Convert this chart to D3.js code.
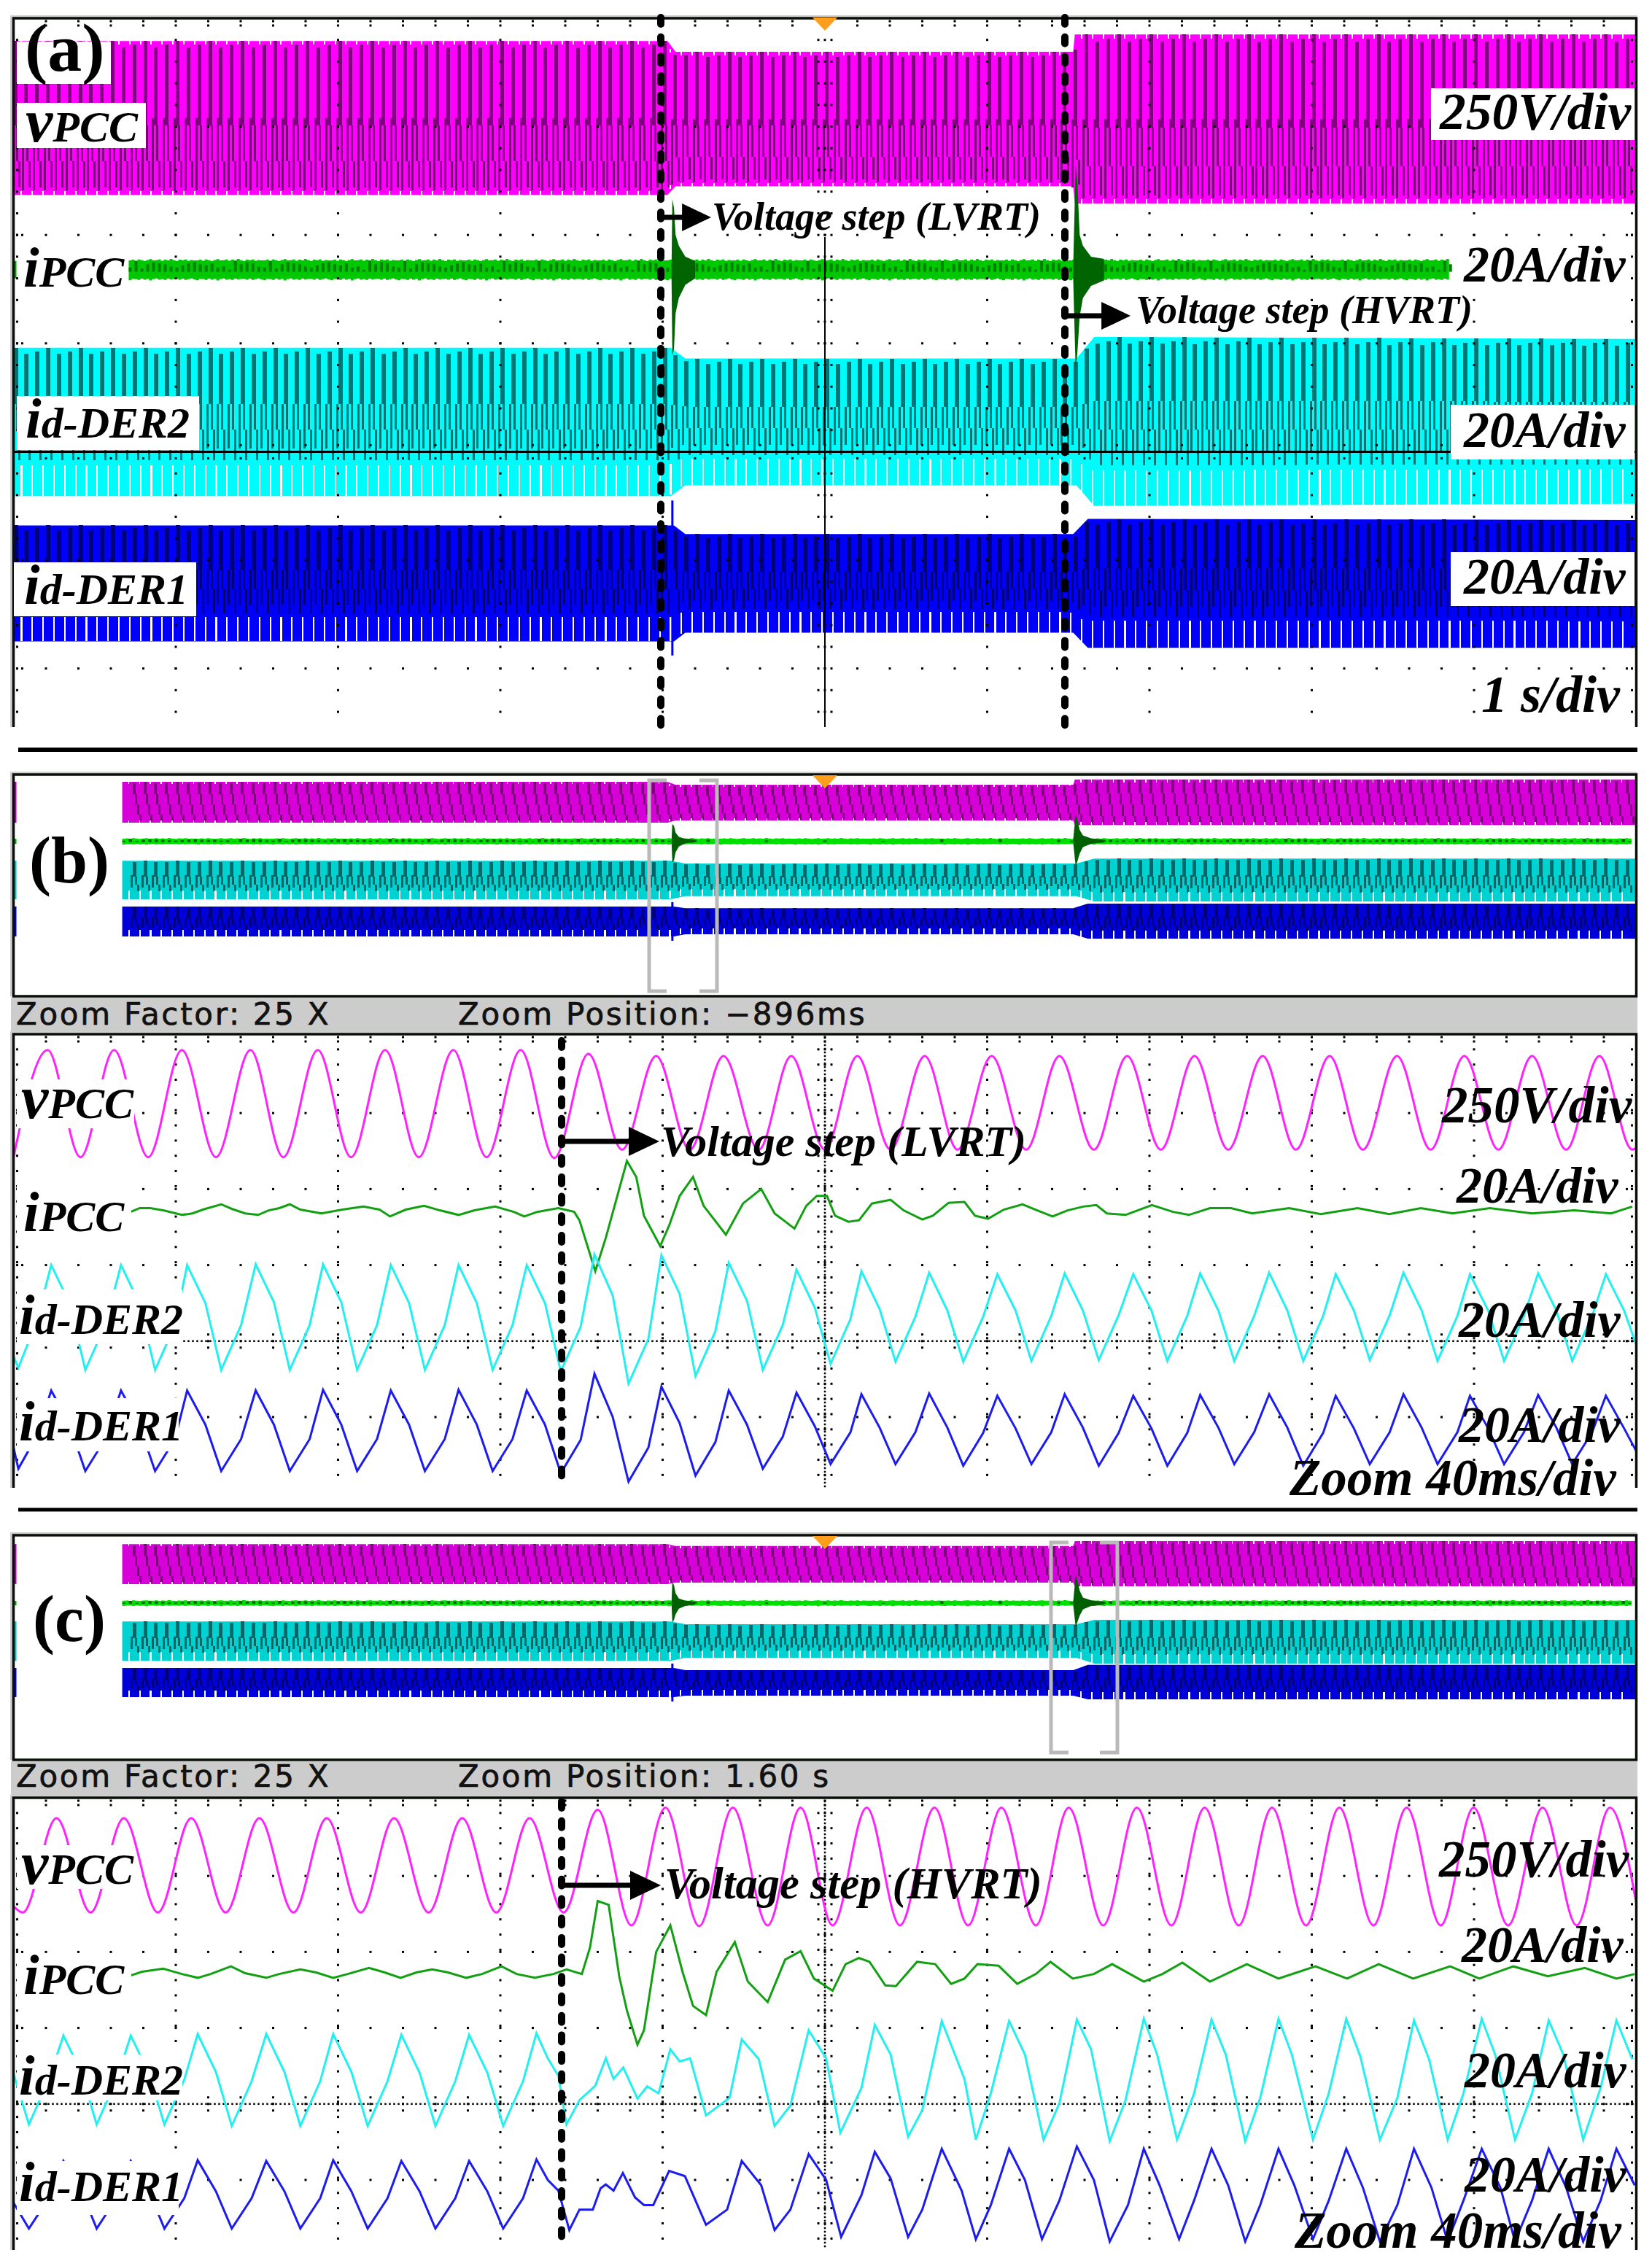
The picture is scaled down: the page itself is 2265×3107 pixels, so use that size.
<!DOCTYPE html>
<html>
<head>
<meta charset="utf-8">
<script src="https://d3js.org/d3.v7.min.js"></script>
<style>
  body { margin: 0; background: #fff; }
  text { font-family: "Liberation Serif", serif; font-weight: bold; font-style: italic; fill: #000; }
  .plain { font-style: normal; }
  .strip { font-family: "DejaVu Sans", sans-serif; font-weight: normal; font-style: normal; font-size: 42px; letter-spacing: 2.7px; fill: #111; stroke: #111; stroke-width: .7px; }
</style>
</head>
<body>
<svg id="k" width="2265" height="3107"></svg>
<script>
// ---- slow traces: envelope of each band, seconds / divisions from screen top
var vA_t = [0, 4.03, 4.08, 6.53, 6.54, 10], vA_top = [.21, .21, .31, .31, .15, .15], vA_bot = [1.63, 1.63, 1.55, 1.55, 1.71, 1.71]
var cyA_t = [0, 4.05, 4.14, 6.55, 6.66, 10], cyA_top = [3.04, 3.04, 3.14, 3.14, 2.94, 2.96], cyA_bot = [4.41, 4.41, 4.31, 4.31, 4.5, 4.48]
var blA_t = [0, 4.07, 4.14, 6.53, 6.62, 10], blA_top = [4.68, 4.68, 4.76, 4.76, 4.62, 4.63], blA_bot = [5.75, 5.75, 5.67, 5.67, 5.81, 5.81]

var vB_top = [.26, .26, .37, .37, .18, .18], vB_bot = [1.74, 1.74, 1.66, 1.66, 1.82, 1.82]
var cyB_top = [3.11, 3.11, 3.21, 3.21, 3.03, 3.03], cyB_bot = [4.5, 4.5, 4.39, 4.39, 4.58, 4.58]
var blB_top = [4.76, 4.76, 4.82, 4.82, 4.66, 4.66], blB_bot = [5.84, 5.84, 5.76, 5.76, 5.92, 5.92]

var vC_top = [.32, .32, .39, .39, .21, .21], vC_bot = [1.76, 1.76, 1.71, 1.71, 1.84, 1.84]
var cyC_top = [3.11, 3.11, 3.21, 3.21, 3.05, 3.05], cyC_bot = [4.53, 4.53, 4.42, 4.42, 4.63, 4.63]
var blC_top = [4.79, 4.79, 4.87, 4.87, 4.68, 4.68], blC_bot = [5.84, 5.84, 5.79, 5.79, 5.92, 5.92]

// grid ripple of the green band
var ripple = [.02, .05, .01, .06, .03, .0, .04, .07, .02, .03, .06, .01, .05, .02, .08, .03, .0, .05, .03, .06, .01, .04, .02]

// current bursts at the two voltage steps
var burst1_t = [4.055, 4.06, 4.07, 4.08, 4.10, 4.14, 4.20], burst2_t = [6.53, 6.545, 6.555, 6.57, 6.59, 6.64, 6.72]
var burstA1_top = [2.3, 1.67, 1.75, 2.0, 2.1, 2.2, 2.24], burstA1_bot = [2.4, 3.11, 3.05, 2.72, 2.58, 2.46, 2.4]
var burstA2_top = [2.3, 1.36, 1.5, 2.0, 2.1, 2.2, 2.22], burstA2_bot = [2.4, 3.24, 3.1, 2.75, 2.58, 2.47, 2.42]
var burstB1_top = [2.35, 1.79, 1.85, 2.1, 2.25, 2.32, 2.35], burstB1_bot = [2.45, 3.18, 3.1, 2.8, 2.6, 2.48, 2.45]
var burstB2_top = [2.35, 1.45, 1.6, 2.0, 2.2, 2.3, 2.35], burstB2_bot = [2.45, 3.3, 3.15, 2.85, 2.62, 2.5, 2.45]
var burstC1_top = [2.4, 1.7, 1.8, 2.1, 2.28, 2.36, 2.4], burstC1_bot = [2.5, 3.15, 3.05, 2.85, 2.65, 2.55, 2.5]
var burstC2_top = [2.4, 1.45, 1.6, 2.0, 2.25, 2.35, 2.4], burstC2_bot = [2.5, 3.3, 3.15, 2.9, 2.68, 2.55, 2.5]

// ---- 25x zoom traces: [ms, divisions from screen top]
var vB = [[0,1.58],[8.4,.17],[16.5,1.58],[24.8,.17],[33.2,1.58],[41.5,.17],[49.9,1.58],[58.4,.17],[66.5,1.58],[75,.17],[83.2,1.58],[91.6,.17],[99.9,1.58],[108.4,.17],[116.6,1.58],[125,.17],[133.3,1.59],[141.7,.22],[150,1.48],[158.4,.25],[166.7,1.48],[175,.25],[183.7,1.48],[191.7,.25],[200,1.48],[208,.25],[216.2,1.48],[224.6,.25],[232.7,1.48],[241.1,.25],[249.6,1.48],[257.8,.25],[266.3,1.48],[274.5,.25],[282.8,1.48],[291.1,.25],[299.4,1.48],[307.9,.25],[316.1,1.48],[324.4,.25],[332.6,1.48],[341,.25],[349.3,1.48],[357.6,.25],[366,1.48],[374.3,.25],[382.7,1.48],[390.9,.25],[399,1.48],[400,1.46]]
var iB = [[28.9,2.3],[31.1,2.25],[33.7,2.25],[36.9,2.28],[41.5,2.34],[44.1,2.32],[46.7,2.27],[51.2,2.2],[53.8,2.26],[57.1,2.32],[60.3,2.34],[62.9,2.28],[65.5,2.25],[68.1,2.2],[70.7,2.27],[75.9,2.32],[81.1,2.27],[86.3,2.23],[90.2,2.27],[92.8,2.36],[96.7,2.27],[101.2,2.22],[105.1,2.28],[109.7,2.34],[113.6,2.28],[118.7,2.23],[123.3,2.3],[125.9,2.36],[129.1,2.3],[134.3,2.25],[138.2,2.3],[139.5,2.41],[143.4,3.08],[146,2.64],[151.2,1.63],[153.5,1.84],[155.4,2.35],[159.4,2.75],[161.6,2.48],[164.2,2.09],[167.5,1.84],[170.1,2.22],[175.6,2.6],[179.8,2.19],[184.3,2],[187.6,2.32],[192.5,2.52],[195.4,2.22],[198,2.09],[200.5,2.09],[202.5,2.35],[205.8,2.43],[208.4,2.41],[211.6,2.19],[216.2,2.14],[219.4,2.28],[224,2.4],[226.6,2.35],[230.5,2.18],[234.4,2.17],[237,2.35],[240.2,2.39],[244.1,2.27],[248.7,2.2],[251.9,2.27],[256.1,2.36],[259.8,2.28],[263.7,2.23],[266.9,2.21],[269.5,2.32],[274.1,2.34],[280.6,2.21],[285.8,2.3],[289.7,2.34],[294.9,2.25],[300.1,2.25],[305.3,2.32],[314.4,2.25],[322.2,2.33],[331.3,2.25],[339.1,2.33],[346.9,2.25],[354.7,2.32],[363.9,2.25],[374.3,2.32],[384.7,2.28],[393.8,2.32],[399,2.23]]
var der2B = [[0,4.2],[1.2,4.35],[5.6,3.76],[9.3,3],[13.8,3.5],[17.7,4.38],[22.6,3.79],[26.5,3],[31,3.5],[34.9,4.38],[39.8,3.79],[42.8,3],[47.3,3.5],[51.2,4.38],[56.1,3.79],[59.7,2.99],[64.2,3.49],[68.1,4.38],[73,3.79],[76.3,2.99],[80.8,3.49],[84.7,4.38],[89.6,3.79],[93,3],[97.5,3.5],[101.4,4.38],[106.3,3.79],[109.7,3],[114.2,3.5],[118.1,4.38],[123,3.79],[126.5,3],[131,3.5],[134.9,4.4],[139.8,3.81],[143.2,2.86],[147.7,3.4],[151.6,4.56],[156.5,3.97],[159.7,2.87],[164.2,3.38],[168.1,4.46],[173,3.87],[176.3,2.97],[180.8,3.47],[184.7,4.38],[189.6,3.79],[193,3.06],[197.5,3.56],[201.4,4.3],[206.3,3.71],[209,3.08],[213.5,3.58],[217.4,4.27],[222.3,3.68],[225.7,3.1],[230.2,3.6],[234.1,4.27],[239,3.68],[242.5,3.12],[247,3.6],[250.9,4.26],[255.8,3.67],[259.1,3.11],[263.6,3.6],[267.5,4.25],[272.4,3.66],[276,3.12],[280.5,3.6],[284.4,4.26],[289.3,3.67],[292.5,3.11],[297,3.6],[300.9,4.26],[305.8,3.67],[309.5,3.1],[314,3.6],[317.9,4.26],[322.8,3.67],[325.9,3.12],[330.4,3.6],[334.3,4.25],[339.2,3.66],[342.6,3.1],[347.1,3.6],[351,4.26],[355.9,3.67],[359,3.12],[363.5,3.6],[367.4,4.26],[372.3,3.67],[375.8,3.11],[380.3,3.6],[384.2,4.26],[389.1,3.67],[392.5,3.12],[397,3.6],[400,4.05]]
var der1B = [[0,5.4],[1.2,5.68],[5.6,5.26],[9.3,4.65],[13.8,5.1],[17.7,5.71],[22.6,5.29],[26.5,4.65],[31,5.1],[34.9,5.71],[39.8,5.29],[42.8,4.65],[47.3,5.1],[51.2,5.71],[56.1,5.29],[59.7,4.65],[64.2,5.1],[68.1,5.71],[73,5.29],[76.3,4.64],[80.8,5.1],[84.7,5.71],[89.6,5.29],[93,4.65],[97.5,5.1],[101.4,5.71],[106.3,5.29],[109.7,4.64],[114.2,5.1],[118.1,5.71],[123,5.29],[126.5,4.65],[131,5.1],[134.9,5.74],[139.8,5.3],[143.2,4.43],[147.7,5],[151.6,5.85],[156.5,5.4],[159.7,4.6],[164.2,5.08],[168.1,5.77],[173,5.33],[176.3,4.65],[180.8,5.1],[184.7,5.68],[189.6,5.26],[193,4.68],[197.5,5.12],[201.4,5.62],[206.3,5.2],[209,4.7],[213.5,5.14],[217.4,5.62],[222.3,5.2],[225.7,4.69],[230.2,5.14],[234.1,5.64],[239,5.21],[242.5,4.72],[247,5.15],[250.9,5.62],[255.8,5.2],[259.1,4.7],[263.6,5.14],[267.5,5.64],[272.4,5.21],[276,4.72],[280.5,5.15],[284.4,5.64],[289.3,5.21],[292.5,4.71],[297,5.14],[300.9,5.62],[305.8,5.2],[309.5,4.7],[314,5.14],[317.9,5.64],[322.8,5.21],[325.9,4.72],[330.4,5.15],[334.3,5.62],[339.2,5.2],[342.6,4.7],[347.1,5.14],[351,5.62],[355.9,5.2],[359,4.72],[363.5,5.15],[367.4,5.62],[372.3,5.2],[375.8,4.71],[380.3,5.14],[384.2,5.62],[389.1,5.2],[392.5,4.72],[397,5.15],[400,5.45]]

var vC = [[0,1.4],[2.3,1.48],[10.6,.24],[19,1.48],[27.2,.24],[35.6,1.48],[43.8,.24],[52.3,1.48],[60.6,.24],[69,1.48],[77.2,.24],[85.6,1.48],[93.8,.24],[102.3,1.48],[110.6,.24],[119,1.48],[127.2,.24],[135.6,1.48],[144,.13],[152.3,1.65],[160.7,.1],[169,1.66],[177.3,.1],[185.9,1.65],[194,.1],[201.9,1.65],[210.3,.1],[218.5,1.65],[227,.1],[235.3,1.65],[243.5,.1],[252,1.65],[260.1,.1],[268.6,1.65],[276.9,.1],[285.4,1.65],[293.6,.1],[302,1.65],[310.2,.1],[318.6,1.65],[326.8,.1],[335.2,1.65],[343.4,.1],[351.8,1.65],[359.9,.1],[368.4,1.65],[376.9,.1],[385.3,1.65],[393.5,.1],[400,1.36]]
var iC = [[28.9,2.31],[31.7,2.26],[36.9,2.22],[41.5,2.29],[45.4,2.34],[48.6,2.29],[53.6,2.19],[57.1,2.28],[62.3,2.34],[65.5,2.29],[70.7,2.23],[74.6,2.27],[78.8,2.34],[82.4,2.29],[87.6,2.21],[91.5,2.27],[95.4,2.34],[99.3,2.27],[103.2,2.23],[107.1,2.27],[111.6,2.34],[115.5,2.29],[120.3,2.19],[124,2.29],[128.5,2.34],[133.1,2.29],[136.3,2.23],[140.1,2.29],[142.1,1.94],[144,1.33],[146.7,1.38],[149.3,2.32],[151.2,2.77],[153.8,3.22],[155.4,3.03],[158.4,2],[161.9,1.65],[164.9,2.26],[167.5,2.71],[170.7,2.83],[173.3,2.26],[177.8,1.87],[181,2.39],[185.9,2.66],[190.2,2.1],[194,1.99],[197.3,2.35],[201.9,2.51],[205.1,2.16],[208.4,2.08],[211,2.13],[214.9,2.44],[217.5,2.45],[222.7,2.13],[227.2,2.16],[231.1,2.42],[234.4,2.35],[237.6,2.16],[242.8,2.18],[247.4,2.42],[252,2.29],[255.6,2.13],[261.1,2.35],[266.3,2.29],[270.8,2.16],[278.6,2.39],[283.2,2.29],[288.1,2.14],[294.9,2.39],[304,2.16],[311.8,2.35],[320.9,2.19],[328.7,2.35],[336.5,2.16],[345,2.35],[354.1,2.19],[361.3,2.35],[369.7,2.19],[378.2,2.32],[387.3,2.21],[395.1,2.35],[399.6,2.29]]
var der2C = [[0,3.6],[3.8,4.27],[8.7,3.68],[12.3,3.1],[16.8,3.6],[20.5,4.27],[25.4,3.68],[28.9,3.1],[33.4,3.6],[37.2,4.27],[42.1,3.68],[45.4,3.08],[49.9,3.58],[53.8,4.29],[58.7,3.7],[62.3,3.08],[66.8,3.58],[70.7,4.29],[75.6,3.7],[78.8,3.08],[83.3,3.58],[87.3,4.29],[92.2,3.7],[95.6,3.09],[100.1,3.59],[104,4.29],[108.9,3.7],[112.3,3.09],[116.8,3.59],[120.7,4.29],[125.6,3.7],[128.9,3.07],[131.7,3.4],[134.3,3.63],[136.3,4.27],[139.5,3.95],[143.4,3.76],[146,3.4],[147.9,3.67],[150.3,3.52],[153.8,3.93],[156.2,3.77],[159,3.86],[161.9,3.28],[164.2,3.44],[166.8,3.4],[170.7,4.15],[176.5,3.92],[179.5,3.15],[183.7,3.41],[187.6,4.29],[191.5,4.02],[196,3.03],[200.3,3.4],[203.8,4.38],[209,3.79],[212.3,2.96],[216.2,3.35],[220.5,4.43],[224,4.08],[228.8,2.91],[234.4,3.67],[237.2,4.47],[240.9,3.86],[245.4,2.91],[249.3,3.35],[253.9,4.47],[257.8,3.99],[262.1,2.89],[265.6,3.28],[270.2,4.49],[274.1,3.95],[278.6,2.88],[281.9,3.35],[286.8,4.47],[291,3.86],[295.3,2.89],[298.8,3.35],[303.6,4.49],[307.3,3.92],[311.8,2.88],[315.1,3.35],[320.3,4.47],[324.2,3.86],[328.5,2.88],[332,3.38],[336.8,4.47],[341.1,3.92],[345.2,2.9],[348.9,3.41],[353.5,4.47],[357.4,3.86],[361.9,2.88],[365.2,3.35],[370.1,4.47],[374.3,3.86],[378.4,2.9],[382,3.35],[386.9,4.47],[391.2,3.79],[395.1,2.9],[399,3.41]]
var der1C = [[0,5.3],[3.8,5.64],[8.7,5.24],[12.3,4.75],[16.8,5.15],[20.5,5.64],[25.4,5.24],[28.9,4.75],[33.4,5.15],[37.2,5.64],[42.1,5.24],[45.4,4.74],[49.9,5.15],[53.8,5.64],[58.7,5.24],[62.3,4.75],[66.8,5.15],[70.7,5.64],[75.6,5.24],[78.8,4.74],[83.3,5.15],[87.3,5.64],[92.2,5.24],[95.6,4.75],[100.1,5.15],[104,5.64],[108.9,5.24],[112.3,4.75],[116.8,5.15],[120.7,5.64],[125.6,5.24],[128.9,4.73],[131.7,5],[134.3,5.14],[137,5.66],[139.5,5.39],[142.8,5.39],[144.7,5.11],[146,5.06],[147.9,5.14],[150.2,4.91],[153.2,5.23],[155.4,5.33],[157.7,5.33],[161.6,4.88],[165.5,4.95],[170.7,5.59],[175.9,5.39],[179.5,4.75],[184.3,5.07],[187.6,5.66],[191.5,5.39],[196,4.66],[200.3,5],[204,5.75],[209,5.2],[212.3,4.63],[216.2,4.98],[220.5,5.75],[224,5.39],[228.8,4.59],[233.7,5.14],[237.2,5.78],[240.9,5.33],[245.4,4.59],[249.3,5],[253.5,5.78],[257.8,5.27],[262.1,4.56],[266.3,5],[270.2,5.81],[274.7,5.33],[278.6,4.59],[282.5,5.07],[287.3,5.78],[291,5.27],[295.3,4.59],[299.4,5.07],[303.6,5.81],[307.3,5.33],[311.8,4.59],[315.7,5.07],[320.3,5.78],[324.2,5.27],[328.5,4.59],[332.6,5.1],[336.8,5.81],[341.1,5.33],[345.2,4.59],[349.5,5.1],[353.5,5.81],[357.4,5.27],[361.9,4.59],[366.5,5.1],[370.1,5.81],[374.3,5.27],[378.4,4.59],[382.7,5.1],[386.9,5.81],[391.2,5.27],[395.1,4.59],[399.6,5.07]]

var svg = d3.select("#k")
var frameL = 18.5, frameR = 2243.5

var xSec = d3.scaleLinear().domain([0, 10]).range([frameL, frameR])
var xMs = d3.scaleLinear().domain([0, 400]).range([frameL, frameR])
var yA = d3.scaleLinear().domain([0, 8]).range([25, 25 + 8 * 148.6])
var yBu = d3.scaleLinear().domain([0, 8]).range([1062, 1062 + 8 * 38])
var yCu = d3.scaleLinear().domain([0, 8]).range([2105, 2105 + 8 * 38])
var yBl = d3.scaleLinear().domain([0, 8]).range([1422, 1422 + 8 * 104.2])
var yCl = d3.scaleLinear().domain([0, 8]).range([2468, 2468 + 8 * 104.2])

// stripe looks: [dx, width, from, to, kind] inside the band; kind d = dark, w = white
var stripesBig = {
  v: [[0,5,-1,.55,'d'],[3,3,.55,.78,'d'],[-3,3,.5,.97,'d'],[6,3,.78,.95,'d'],[-5,2,0,.025,'w'],[-5,2,.975,1,'w']],
  i: [[0,6,-1,.38,'d'],[3,3,.38,.55,'d'],[6,3,.55,.76,'d'],[-3,3,.38,.68,'d'],[-5,2.2,.79,1,'w']]
}
var stripesSmall = {
  v: [[0,4,-1,.3,'d'],[3,3,.3,.55,'d'],[6,3,.55,.8,'d'],[9,3,.8,.97,'d'],[-6,1.5,0,.06,'w'],[-6,1.5,.94,1,'w']],
  i: [[0,5,-1,.42,'d'],[3,3,.42,.62,'d'],[6,3,.62,.8,'d'],[-3,3,.38,.7,'d'],[-6,2.2,.78,1,'w']]
}
var stripeTop = [0, .04, .025]

function drawBand(g, x, y, t, top, bot, bright, dark, look, tFrom) {
  var topAt = d3.scaleLinear().domain(t).range(top)
  var botAt = d3.scaleLinear().domain(t).range(bot)
  var ts = d3.sort(new Set(t.concat([tFrom, 10]))).filter(d => d >= tFrom)
  g.append("path")
    .attr("fill", bright)
    .attr("d", d3.area().x(d => x(d)).y0(d => y(topAt(d))).y1(d => y(botAt(d)))(ts))
  var cols = d3.range(Math.ceil(tFrom * 15), 150)
  cols.forEach(function (k) {
    var s = k / 15, px = x(s), y0 = y(topAt(s)), y1 = y(botAt(s)), h = y1 - y0
    look.forEach(function (p) {
      var from = p[2] < 0 ? stripeTop[k % 3] : p[2]
      g.append("rect")
        .attr("x", Math.min(px + p[0], x(10) - p[1]))
        .attr("y", y0 + from * h)
        .attr("width", p[1])
        .attr("height", (p[3] - from) * h)
        .attr("fill", p[4] == 'd' ? dark : "#fff")
        .attr("shape-rendering", "crispEdges")
    })
  })
}

function drawBurst(g, x, y, t, top, bot, col) {
  g.append("path")
    .attr("fill", col)
    .attr("d", d3.area().x((d, i) => x(t[i])).y0((d, i) => y(top[i])).y1((d, i) => y(bot[i]))(t))
}

// the noisy green current band, drawn as rough steps
function drawGreen(g, x, y, tFrom, tTo, yTop, yBot, bright, dark, stepS, amp, skip) {
  var ts = d3.range(tFrom, tTo, stepS)
  var h = y(yBot) - y(yTop)
  g.append("path").attr("fill", bright)
    .attr("d", d3.area().curve(d3.curveStepAfter)
      .x(d => x(d))
      .y0((d, i) => y(yTop - amp * ripple[i % ripple.length]))
      .y1((d, i) => y(yBot + amp * ripple[(i + 7) % ripple.length]))(ts))
  ts.forEach(function (d, i) {
    if (skip && d > skip[0] && d < skip[1] && i % 9) return
    if (i % 2) return
    var f = ripple[(i + 3) % ripple.length] / .08
    g.append("rect").attr("x", x(d)).attr("width", x(stepS) - x(0))
      .attr("y", y(yTop) + f * h * .5)
      .attr("height", h * (.5 * (1 - f) + .12))
      .attr("fill", dark)
  })
}

function drawGrid(g, y, rows, bottom, centerSolid, topPx) {
  var fifth = (y(1) - y(0)) / 5
  var col = "#000"
  function dot(px, py, s) {
    g.append("rect").attr("x", px - s / 2).attr("y", py - s / 2).attr("width", s).attr("height", s).attr("fill", col)
  }
  var xt = d3.range(1, 50).map(d => xSec(d / 5))
  rows.forEach(function (r) {
    xt.forEach(d => dot(d, y(r), 3))
    dot(frameL + 5, y(r), 3); dot(frameL + 12, y(r), 3)
    dot(frameR - 6, y(r), 3); dot(frameR - 13, y(r), 3)
  })
  xt.forEach(function (d) {
    dot(d, topPx + 4, 3); dot(d, topPx + 10, 3)
    dot(d, y(4) - 9, 3); dot(d, y(4) + 9, 3)
  })
  d3.range(1, 10).forEach(function (k) {
    var px = xSec(k)
    d3.range(topPx + fifth, bottom, fifth).forEach(d => dot(px, d, 3))
  })
  d3.range(topPx + fifth, bottom, fifth).forEach(function (d) {
    dot(frameL + 5, d, 3); dot(frameR - 6, d, 3)
    dot(xSec(5) - 9, d, 3); dot(xSec(5) + 9, d, 3)
  })
  if (!centerSolid) {
    d3.range(topPx, bottom, 5).forEach(d => dot(xSec(5), d, 2.5))
    d3.range(frameL, frameR, 6).forEach(d => dot(d, y(4), 2.5))
  }
}

function frame(g, top, bottom, closed) {
  g.append("path").attr("fill", "none").attr("stroke", "#cfcfcf").attr("stroke-width", 3)
    .attr("d", `M${frameL - 3},${bottom} V${top - 2.5} H${frameR + 1}`)
  g.append("path").attr("fill", "none").attr("stroke", "#0a0f0a").attr("stroke-width", 3.5)
    .attr("d", closed ? `M${frameL},${bottom} V${top} H${frameR} V${bottom} Z`
                      : `M${frameL},${bottom} V${top} H${frameR} V${bottom}`)
}

function marker(g, top) {
  g.append("path").attr("fill", "#ff9d1c").attr("d", `M${xSec(5) - 17},${top} H${xSec(5) + 17} L${xSec(5)},${top + 18} Z`)
}

function whiteBox(g, x0, y0, x1, y1) {
  g.append("rect").attr("x", x0).attr("y", y0).attr("width", x1 - x0).attr("height", y1 - y0).attr("fill", "#fff")
}

function sym(g, x, y, big, rest, bigSize) {
  var t = g.append("text").attr("x", x).attr("y", y)
  t.append("tspan").attr("font-size", bigSize).text(big)
  t.append("tspan").attr("font-size", 60).text(rest)
}

function note(g, x, y, s, size) {
  g.append("text").attr("x", x).attr("y", y).attr("font-size", size).text(s)
}

function dashed(g, px, y0, y1) {
  g.append("line").attr("x1", px).attr("x2", px).attr("y1", y0).attr("y2", y1)
    .attr("stroke", "#000").attr("stroke-width", 10).attr("stroke-linecap", "round")
    .attr("stroke-dasharray", "9 17.7")
}

function arrow(g, x0, x1, py, half) {
  g.append("line").attr("x1", x0).attr("x2", x1 - 30).attr("y1", py).attr("y2", py)
    .attr("stroke", "#000").attr("stroke-width", 7)
  g.append("path").attr("fill", "#000").attr("d", `M${x1 - half * 2.1},${py - half} L${x1},${py} L${x1 - half * 2.1},${py + half} Z`)
}

function bracket(g, x0, x1, y0, y1) {
  g.append("path").attr("fill", "none").attr("stroke", "#b9b9b9").attr("stroke-width", 5)
    .attr("d", `M${x0 + 24},${y0} H${x0} V${y1} H${x0 + 24} M${x1 - 24},${y0} H${x1} V${y1} H${x1 - 24}`)
}

// ---- panel (a)
var a = svg.append("g")
drawBand(a, xSec, yA, vA_t, vA_top, vA_bot, "#ff00ff", "#800080", stripesBig.v, 0)
drawBand(a, xSec, yA, cyA_t, cyA_top, cyA_bot, "#00fbfb", "#007575", stripesBig.i, 0)
drawBand(a, xSec, yA, blA_t, blA_top, blA_bot, "#0000f8", "#00007a", stripesBig.i, 0)
drawGreen(a, xSec, yA, .71, 8.86, 2.24, 2.40, "#00c800", "#008000", .018, .25, null)
a.append("rect").attr("x", frameL).attr("width", 4).attr("y", yA(2.24)).attr("height", yA(2.4) - yA(2.24)).attr("fill", "#00a000")
drawBurst(a, xSec, yA, burst1_t, burstA1_top, burstA1_bot, "#006400")
drawBurst(a, xSec, yA, burst2_t, burstA2_top, burstA2_bot, "#006400")
a.append("line").attr("x1", xSec(4.06)).attr("x2", xSec(4.06)).attr("y1", yA(4.45)).attr("y2", yA(5.88)).attr("stroke", "#0000f8").attr("stroke-width", 3)
a.append("line").attr("x1", xSec(5)).attr("x2", xSec(5)).attr("y1", 325).attr("y2", 997).attr("stroke", "#000").attr("stroke-width", 2)
drawGrid(a, yA, [1, 2, 3, 4, 5, 6], 997, true, 25)
a.append("line").attr("x1", frameL).attr("x2", frameR).attr("y1", yA(4)).attr("y2", yA(4)).attr("stroke", "#000").attr("stroke-width", 3)
frame(a, 25, 997, false)
marker(a, 24)
whiteBox(a, 23, 57, 152, 115)
whiteBox(a, 23, 141, 200, 203)
whiteBox(a, 23, 543, 273, 617)
whiteBox(a, 19, 771, 269, 845)
whiteBox(a, 1962, 121, 2241, 192)
whiteBox(a, 1989, 555, 2241, 630)
whiteBox(a, 1989, 757, 2241, 831)
a.append("text").attr("class", "plain").attr("x", 34).attr("y", 97).attr("font-size", 94).text("(a)")
sym(a, 35, 194, "v", "PCC", 84)
sym(a, 32, 393, "i", "PCC", 78)
sym(a, 35, 600, "i", "d-DER2", 78)
sym(a, 33, 828, "i", "d-DER1", 78)
note(a, 1974, 177, "250V/div", 71.5)
note(a, 2007, 386, "20A/div", 70)
note(a, 2007, 613, "20A/div", 70)
note(a, 2007, 814, "20A/div", 70)
note(a, 2031, 976, "1 s/div", 72)
dashed(a, 906, 24, 998)
dashed(a, 1460, 24, 998)
arrow(a, 908, 975, 298, 19)
arrow(a, 1460, 1550, 433, 19)
note(a, 976, 315, "Voltage step (LVRT)", 54)
note(a, 1557, 443, "Voltage step (HVRT)", 54)

// divider
svg.append("line").attr("x1", 25).attr("x2", 2245).attr("y1", 1028).attr("y2", 1028).attr("stroke", "#000").attr("stroke-width", 6)
svg.append("line").attr("x1", 25).attr("x2", 2245).attr("y1", 2070).attr("y2", 2070).attr("stroke", "#000").attr("stroke-width", 5)

// ---- overview + zoom of (b) and (c), same layout
function overview(g, y, tops, name, nameX, nameY, burst1Top, burst1Bot, burst2Top, burst2Bot, gTop, gBot) {
  var tFrom = .67
  drawBand(g, xSec, y, vA_t, tops.vt, tops.vb, "#d800d8", "#800080", stripesSmall.v, tFrom)
  drawBand(g, xSec, y, cyA_t, tops.ct, tops.cb, "#00d2d2", "#006868", stripesSmall.i, tFrom)
  drawBand(g, xSec, y, blA_t, tops.bt, tops.bb, "#0000d8", "#000080", stripesSmall.i, tFrom)
  drawGreen(g, xSec, y, tFrom, 9.98, gTop, gBot, "#00e000", "#006000", .02, .35, [4.2, 6.5])
  drawBurst(g, xSec, y, burst1_t, burst1Top, burst1Bot, "#005f00")
  drawBurst(g, xSec, y, burst2_t, burst2Top, burst2Bot, "#005f00")
  g.append("line").attr("x1", xSec(4.06)).attr("x2", xSec(4.06)).attr("y1", y(tops.bt[0]) - 6).attr("y2", y(tops.bb[0]) + 6).attr("stroke", "#0000d8").attr("stroke-width", 3)
  ;[[tops.vt, tops.vb, "#b000b0"], [[gTop], [gBot], "#00a000"], [tops.ct, tops.cb, "#00c0c0"], [tops.bt, tops.bb, "#0000d0"]].forEach(function (m) {
    g.append("rect").attr("x", frameL).attr("width", 4).attr("y", y(m[0][0])).attr("height", y(m[1][0]) - y(m[0][0])).attr("fill", m[2])
  })
  g.append("text").attr("class", "plain").attr("x", nameX).attr("y", nameY).attr("font-size", 90).text(name)
}

function zoomTrace(g, y, data, col, curve) {
  g.append("path").attr("fill", "none").attr("stroke", col).attr("stroke-width", 3)
    .attr("d", d3.line().curve(curve).x(d => xMs(d[0])).y(d => y(d[1]))(data))
}

// (b)
var b = svg.append("g")
overview(b, yBu, { vt: vB_top, vb: vB_bot, ct: cyB_top, cb: cyB_bot, bt: blB_top, bb: blB_bot }, "(b)", 40, 1210,
  burstB1_top, burstB1_bot, burstB2_top, burstB2_bot, 2.32, 2.5)
frame(b, 1062, 1366, true)
marker(b, 1063)
bracket(b, 890, 983, 1070, 1359)
b.append("rect").attr("x", 15).attr("y", 1368).attr("width", 2230).attr("height", 47).attr("fill", "#cccccc")
b.append("text").attr("class", "strip").attr("x", 22).attr("y", 1405).text("Zoom Factor: 25 X")
b.append("text").attr("class", "strip").attr("x", 628).attr("y", 1405).text("Zoom Position: \u2212896ms")
drawGrid(b, yBl, [1, 2, 3, 4, 5], 2040, false, 1418)
zoomTrace(b, yBl, vB, "#ff22ff", d3.curveMonotoneX)
zoomTrace(b, yBl, iB, "#12a012", d3.curveLinear)
zoomTrace(b, yBl, der2B, "#22f0f0", d3.curveLinear)
zoomTrace(b, yBl, der1B, "#1c1cf0", d3.curveLinear)
frame(b, 1418, 2040, false)
whiteBox(b, 23, 1480, 184, 1547)
whiteBox(b, 23, 1768, 250, 1843)
whiteBox(b, 23, 1917, 245, 1990)
whiteBox(b, 23, 1625, 180, 1700)
sym(b, 29, 1533, "v", "PCC", 84)
sym(b, 32, 1688, "i", "PCC", 78)
sym(b, 26, 1829, "i", "d-DER2", 78)
sym(b, 26, 1975, "i", "d-DER1", 78)
note(b, 1977, 1539, "250V/div", 71)
note(b, 1997, 1649, "20A/div", 70)
note(b, 2000, 1833, "20A/div", 70)
note(b, 2000, 1977, "20A/div", 70)
note(b, 1768, 2050, "Zoom 40ms/div", 71)
dashed(b, 770, 1427, 2033)
arrow(b, 770, 904, 1565, 20)
note(b, 906, 1585, "Voltage step (LVRT)", 60)

// (c)
var c = svg.append("g")
overview(c, yCu, { vt: vC_top, vb: vC_bot, ct: cyC_top, cb: cyC_bot, bt: blC_top, bb: blC_bot }, "(c)", 45, 2250,
  burstC1_top, burstC1_bot, burstC2_top, burstC2_bot, 2.37, 2.53)
frame(c, 2105, 2413, true)
marker(c, 2106)
bracket(c, 1441, 1532, 2115, 2403)
c.append("rect").attr("x", 15).attr("y", 2415).attr("width", 2230).attr("height", 48).attr("fill", "#cccccc")
c.append("text").attr("class", "strip").attr("x", 22).attr("y", 2450).text("Zoom Factor: 25 X")
c.append("text").attr("class", "strip").attr("x", 628).attr("y", 2450).text("Zoom Position: 1.60 s")
drawGrid(c, yCl, [1, 2, 3, 4, 5], 3085, false, 2465)
zoomTrace(c, yCl, vC, "#ff22ff", d3.curveMonotoneX)
zoomTrace(c, yCl, iC, "#12a012", d3.curveLinear)
zoomTrace(c, yCl, der2C, "#22f0f0", d3.curveLinear)
zoomTrace(c, yCl, der1C, "#1c1cf0", d3.curveLinear)
frame(c, 2465, 3085, false)
whiteBox(c, 23, 2530, 184, 2590)
whiteBox(c, 23, 2817, 250, 2880)
whiteBox(c, 23, 2963, 245, 3037)
whiteBox(c, 23, 2680, 180, 2745)
sym(c, 29, 2583, "v", "PCC", 84)
sym(c, 32, 2734, "i", "PCC", 78)
sym(c, 26, 2872, "i", "d-DER2", 78)
sym(c, 26, 3018, "i", "d-DER1", 78)
note(c, 1973, 2573, "250V/div", 71)
note(c, 2004, 2690, "20A/div", 70)
note(c, 2008, 2862, "20A/div", 70)
note(c, 2008, 3005, "20A/div", 70)
note(c, 1775, 3082, "Zoom 40ms/div", 71)
dashed(c, 770, 2470, 3078)
arrow(c, 770, 906, 2585, 20)
note(c, 911, 2603, "Voltage step (HVRT)", 60.5)
</script>
</body>
</html>
